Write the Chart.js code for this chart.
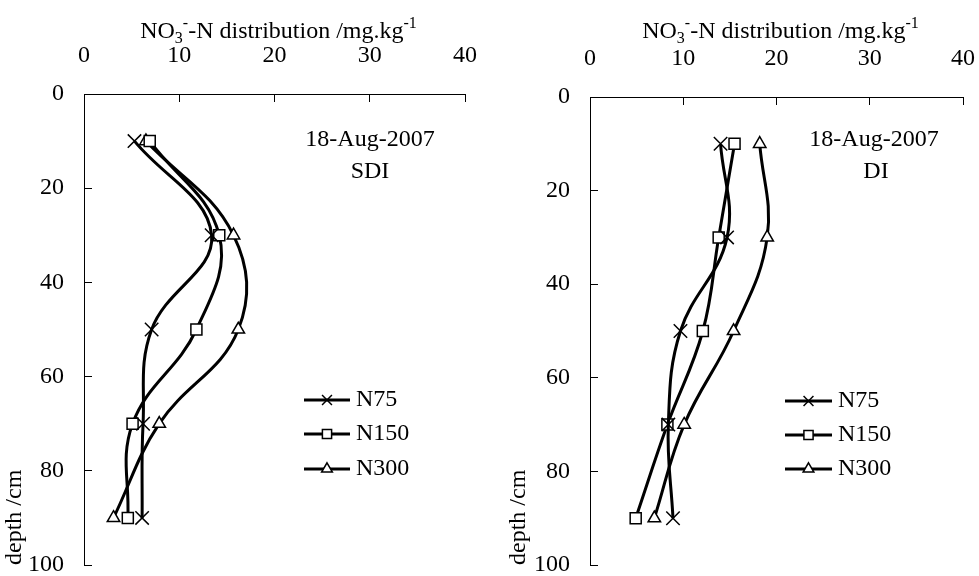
<!DOCTYPE html>
<html><head><meta charset="utf-8">
<script src="https://cdn.jsdelivr.net/npm/chart.js@4.4.1/dist/chart.umd.min.js"></script>
<style>
html,body{margin:0;padding:0;background:#fff;width:979px;height:576px;overflow:hidden;}
canvas{position:absolute;top:0;}
#c1{left:0px} #c2{left:490px}
#fl{position:absolute;left:-9999px;top:0;font-family:'Liberation Serif';font-size:24px;}
</style></head><body>
<div id="fl">NO3 distribution 0123456789</div>
<canvas id="c1" width="490" height="576"></canvas>
<canvas id="c2" width="489" height="576"></canvas>
<script>
// ---- data ----
const depths = [10, 30, 50, 70, 90];
const seriesNames = ['N75', 'N150', 'N300'];
const sdiN75  = [5.3, 13.4, 7.1, 6.2, 6.1];
const sdiN150 = [6.9, 14.2, 11.8, 5.1, 4.6];
const sdiN300 = [6.5, 15.7, 16.2, 7.9, 3.1];
const diN75   = [14.0, 14.7, 9.7, 8.4, 8.9];
const diN150  = [15.5, 13.8, 12.1, 8.3, 4.9];
const diN300  = [18.2, 19.0, 15.4, 10.1, 6.9];
const xTickValues = [0, 10, 20, 30, 40];
const yTickValues = [0, 20, 40, 60, 80, 100];
const dateLabel = '18-Aug-2007';
const panelNames = ['SDI', 'DI'];
const yTitle = 'depth /cm';
const titleParts = ['NO', '3', '-', '-N distribution /mg.kg', '-1'];

// ---- styles ----
const FONT = "'Liberation Serif', serif";
const pointStyles = ['crossRot', 'rect', 'triangle'];
const pointRadii = [9.5, 7.8, 7.2];

function drawMarker(ctx, style, x, y, r) {
  ctx.beginPath();
  if (style === 'crossRot') {
    const s = r * Math.SQRT1_2;
    ctx.moveTo(x - s, y - s); ctx.lineTo(x + s, y + s);
    ctx.moveTo(x - s, y + s); ctx.lineTo(x + s, y - s);
    ctx.stroke();
  } else if (style === 'rect') {
    const s = r * Math.SQRT1_2;
    ctx.rect(x - s, y - s, 2 * s, 2 * s);
    ctx.fill(); ctx.stroke();
  } else {
    const w = r * Math.sqrt(3) / 2;
    ctx.moveTo(x, y - r); ctx.lineTo(x + w, y + r / 2); ctx.lineTo(x - w, y + r / 2); ctx.closePath();
    ctx.fill(); ctx.stroke();
  }
}

function buildDatasets(vals) {
  return vals.map((arr, i) => ({
    label: seriesNames[i],
    data: depths.map((d, j) => ({ x: arr[j], y: d })),
    showLine: true,
    borderColor: '#000',
    borderWidth: 3,
    tension: 0.4,
    pointStyle: pointStyles[i],
    pointRadius: pointRadii[i],
    pointBorderWidth: 1.5,
    pointBorderColor: '#000',
    pointBackgroundColor: i === 0 ? 'rgba(0,0,0,0)' : '#fff',
    fill: false,
    clip: false
  }));
}

function decor(cfg) {
  return {
    id: 'decor',
    afterDraw(chart) {
      const ctx = chart.ctx, xs = chart.scales.x, ys = chart.scales.y, ca = chart.chartArea;
      ctx.save();
      ctx.strokeStyle = '#000'; ctx.lineWidth = 1;
      xTickValues.forEach(v => {
        if (v === 0) return;
        const px = Math.round(xs.getPixelForValue(v) - 0.5) + 0.5;
        ctx.beginPath(); ctx.moveTo(px, ca.top); ctx.lineTo(px, ca.top + 8); ctx.stroke();
      });
      yTickValues.forEach(v => {
        if (v === 0) return;
        const py = Math.round(ys.getPixelForValue(v) - 0.5) + 0.5;
        ctx.beginPath(); ctx.moveTo(ca.left, py); ctx.lineTo(ca.left + 8, py); ctx.stroke();
      });
      ctx.fillStyle = '#000';
      const big = 24, small = 16;
      const segs = [
        { t: titleParts[0], s: big, dy: 0 },
        { t: titleParts[1], s: small, dy: 5 },
        { t: titleParts[2], s: small, dy: -10 },
        { t: titleParts[3], s: big, dy: 0 },
        { t: titleParts[4], s: small, dy: -10 }
      ];
      let total = 0;
      segs.forEach(g => { ctx.font = g.s + 'px ' + FONT; g.w = ctx.measureText(g.t).width; total += g.w; });
      let x = (ca.left + ca.right) / 2 + cfg.titleShift - total / 2;
      ctx.textAlign = 'left'; ctx.textBaseline = 'alphabetic';
      segs.forEach(g => { ctx.font = g.s + 'px ' + FONT; ctx.fillText(g.t, x, cfg.titleBase + g.dy); x += g.w; });
      ctx.font = '24px ' + FONT;
      ctx.textAlign = 'center'; ctx.textBaseline = 'middle';
      ctx.fillText(dateLabel, cfg.noteX, cfg.noteY1);
      ctx.fillText(cfg.panel, cfg.noteX + cfg.panelShift, cfg.noteY2);
      ctx.save();
      ctx.translate(cfg.yTitleX, cfg.yTitleBottom);
      ctx.rotate(-Math.PI / 2);
      ctx.textAlign = 'left'; ctx.textBaseline = 'middle';
      ctx.fillText(yTitle, 0, 0);
      ctx.restore();
      seriesNames.forEach((name, i) => {
        const y = cfg.legY[i];
        ctx.strokeStyle = '#000'; ctx.lineWidth = 3;
        ctx.beginPath(); ctx.moveTo(cfg.legX0, y); ctx.lineTo(cfg.legX1, y); ctx.stroke();
        ctx.lineWidth = 1.5; ctx.fillStyle = '#fff';
        drawMarker(ctx, pointStyles[i], (cfg.legX0 + cfg.legX1) / 2, y, [7, 6.5, 6.2][i]);
        ctx.fillStyle = '#000';
        ctx.textAlign = 'left'; ctx.textBaseline = 'middle';
        ctx.fillText(name, cfg.legX1 + 6, y);
      });
      ctx.restore();
    }
  };
}

function makeChart(id, vals, cfg) {
  return new Chart(document.getElementById(id), {
    type: 'scatter',
    data: { datasets: buildDatasets(vals) },
    options: {
      responsive: false,
      animation: false,
      events: [],
      devicePixelRatio: 1,
      layout: { padding: { left: 0, top: 0, right: cfg.padRight, bottom: cfg.padBottom } },
      plugins: { legend: { display: false }, tooltip: { enabled: false }, title: { display: false } },
      scales: {
        x: {
          type: 'linear', position: 'top', min: xTickValues[0], max: xTickValues[xTickValues.length - 1],
          afterFit(s) { s.height = cfg.top; s.paddingLeft = 0; s.paddingRight = 0; },
          afterBuildTicks(s) { s.ticks = xTickValues.map(v => ({ value: v })); },
          ticks: { color: '#000', font: { family: FONT, size: 24 }, padding: 24, maxRotation: 0, autoSkip: false },
          grid: { display: false, drawTicks: false },
          border: { display: true, color: '#000', width: 1 }
        },
        y: {
          type: 'linear', position: 'left', reverse: true, min: yTickValues[0], max: yTickValues[yTickValues.length - 1],
          afterFit(s) { s.width = cfg.left; s.paddingTop = 0; s.paddingBottom = 0; },
          afterBuildTicks(s) { s.ticks = yTickValues.map(v => ({ value: v })); },
          ticks: { color: '#000', font: { family: FONT, size: 24 }, padding: 20, autoSkip: false },
          grid: { display: false, drawTicks: false },
          border: { display: true, color: '#000', width: 1 }
        }
      }
    },
    plugins: [decor(cfg)]
  });
}

function start() {
  makeChart('c1', [sdiN75, sdiN150, sdiN300], {
    left: 84, top: 94, padRight: 25, padBottom: 10,
    titleShift: 4, titleBase: 38,
    noteX: 370, noteY1: 140, noteY2: 172, panel: panelNames[0], panelShift: 0,
    yTitleX: 15, yTitleBottom: 565,
    legX0: 304, legX1: 350, legY: [400, 434, 469]
  });
  makeChart('c2', [diN75, diN150, diN300], {
    left: 100, top: 97, padRight: 16, padBottom: 10,
    titleShift: 4, titleBase: 38,
    noteX: 384, noteY1: 140, noteY2: 172, panel: panelNames[1], panelShift: 2,
    yTitleX: 29, yTitleBottom: 565,
    legX0: 295, legX1: 342, legY: [401, 435, 469]
  });
}
let started = false;
function go() { if (!started) { started = true; start(); } }
if (document.fonts && document.fonts.load) {
  document.fonts.load("24px 'Liberation Serif'").then(go, go);
  setTimeout(go, 1500);
} else { go(); }
</script>
</body></html>
